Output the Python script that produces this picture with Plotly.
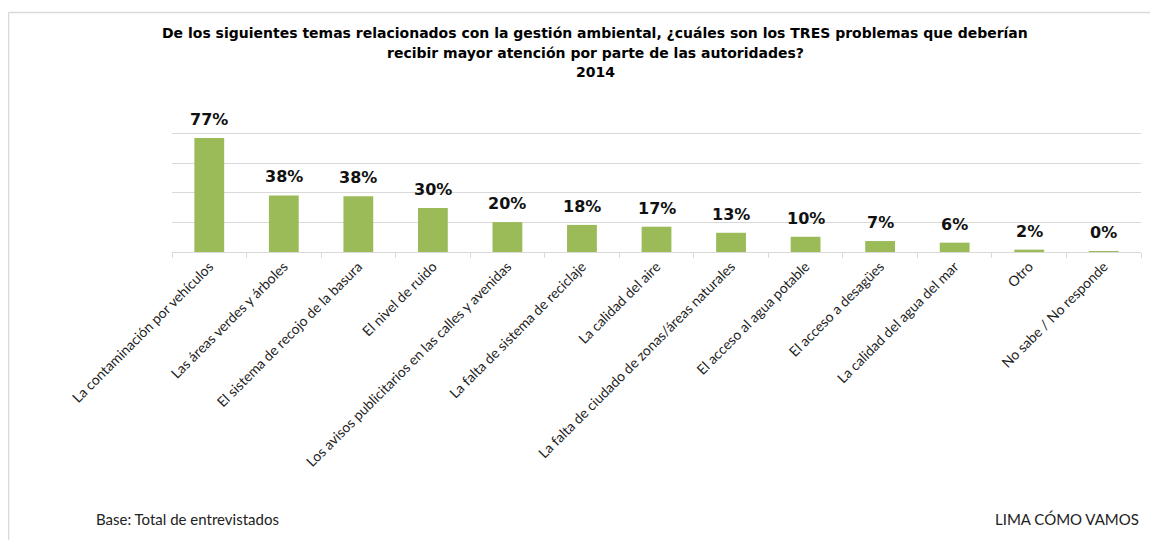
import plotly.graph_objects as go

categories = [
    "La contaminación por vehículos",
    "Las áreas verdes y árboles",
    "El sistema de recojo de la basura",
    "El nivel de ruido",
    "Los avisos publicitarios en las calles y avenidas",
    "La falta de sistema de reciclaje",
    "La calidad del aire",
    "La falta de ciudado de zonas/áreas naturales",
    "El acceso al agua potable",
    "El acceso a desagües",
    "La calidad del agua del mar",
    "Otro",
    "No sabe / No responde",
]
values = [77.0, 38.2, 37.7, 29.8, 20.2, 18.3, 17.1, 13.0, 10.3, 7.4, 6.3, 1.6, 0.4]

title_lines = [
    "De los siguientes temas relacionados con la gestión ambiental, ¿cuáles son los TRES problemas que deberían",
    "recibir mayor atención por parte de las autoridades?",
    "2014",
]
footer_left = "Base: Total de entrevistados"
footer_right = "LIMA CÓMO VAMOS"

# page body adds an 8px margin; figure is sized so it fits the window
OFF = 8
W, H = 1158 - OFF, 540 - OFF
PL, PR, PT, PB = 172 - OFF, 1141 - OFF, 104 - OFF, 252 - OFF
ml, mr, mt, mb = PL, W - PR, PT, H - PB


def px(rx):
    return (rx - OFF - PL) / (PR - PL)


def py(ry):
    return (PB - (ry - OFF)) / (PB - PT)


fig = go.Figure()
fig.add_trace(go.Bar(
    x=categories, y=values,
    marker=dict(color="#9BBB59", line=dict(width=0)),
    hoverinfo="skip",
))

for c, v in zip(categories, values):
    fig.add_annotation(
        x=c, y=v, xref="x", yref="y",
        text=f"<b>{v:.0f}%</b>", showarrow=False,
        yanchor="bottom", yshift=7,
        font=dict(family="DejaVu Sans", size=16, color="#111111"),
    )

fig.update_layout(
    width=W, height=H,
    margin=dict(l=ml, r=mr, t=mt, b=mb, autoexpand=False),
    paper_bgcolor="white", plot_bgcolor="white",
    bargap=0.6, showlegend=False,
    font=dict(family="Lato", color="#222222"),
)
fig.update_xaxes(
    tickangle=-45, tickfont=dict(family="Lato", size=14, color="#222222"),
    showline=True, linecolor="#d9d9d9", linewidth=1,
    ticks="outside", tickson="boundaries", ticklen=5, tickcolor="#d9d9d9",
    showgrid=False, fixedrange=True,
)
fig.update_yaxes(
    range=[0, 100], dtick=20, showticklabels=False,
    showgrid=True, gridcolor="#d9d9d9", gridwidth=1,
    zeroline=False, showline=False, fixedrange=True,
)

for line, ry in zip(title_lines, [33, 53, 72]):
    fig.add_annotation(
        x=px(595), y=py(ry), xref="paper", yref="paper",
        xanchor="center", yanchor="middle", showarrow=False,
        text=f"<b>{line}</b>",
        font=dict(family="DejaVu Sans", size=14, color="#000000"),
    )

fig.add_annotation(x=px(94), y=py(519), xref="paper", yref="paper",
                   xanchor="left", yanchor="middle", showarrow=False,
                   text=footer_left, font=dict(family="Lato", size=15, color="#222222"))
fig.add_annotation(x=px(1141), y=py(519), xref="paper", yref="paper",
                   xanchor="right", yanchor="middle", showarrow=False,
                   text=footer_right, font=dict(family="Lato", size=15, color="#222222"))

# thin frame (left and top) like the reference
fig.add_shape(type="line", xref="paper", yref="paper",
              x0=px(8.5), x1=px(1158), y0=py(12.5), y1=py(12.5),
              line=dict(color="#d9d9d9", width=1.5))
fig.add_shape(type="line", xref="paper", yref="paper",
              x0=px(8.5), x1=px(8.5), y0=py(540), y1=py(12.5),
              line=dict(color="#d9d9d9", width=1.5))

fig.write_html("out.html")
